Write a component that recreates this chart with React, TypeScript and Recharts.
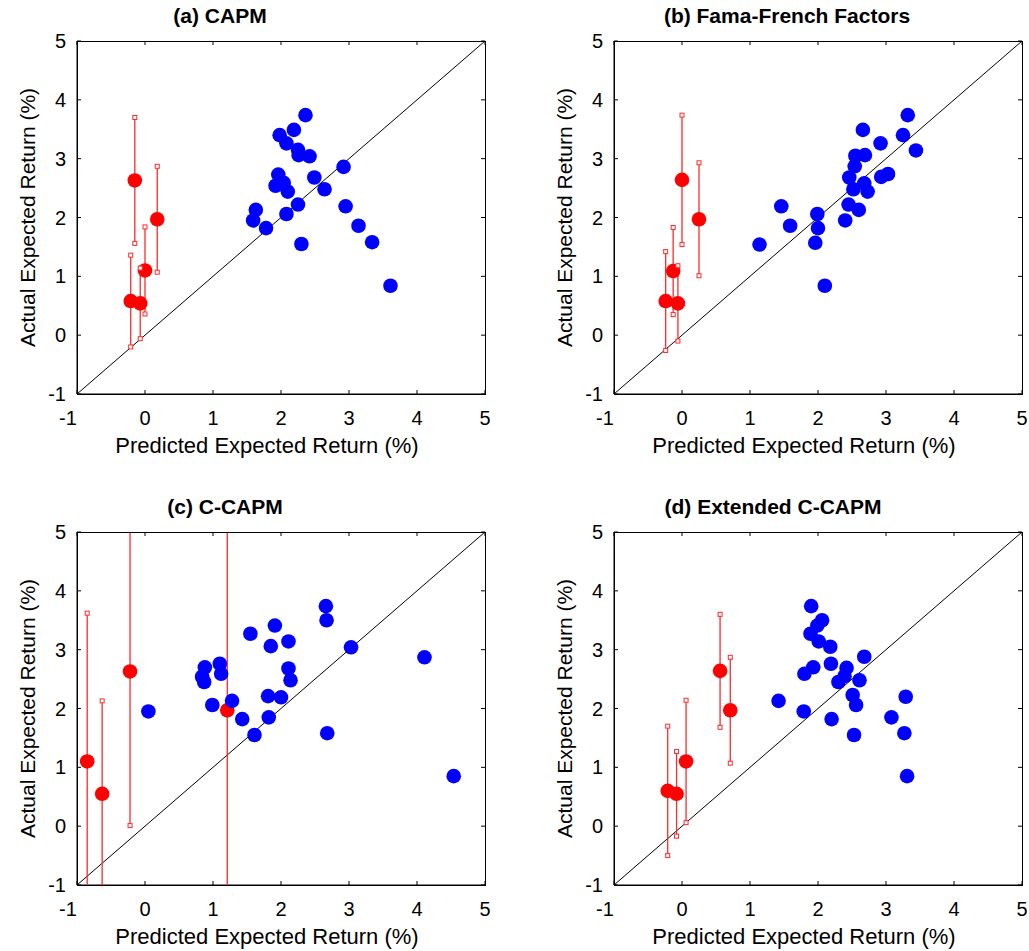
import React from 'react';
import { ScatterChart, Scatter, XAxis, YAxis, Label, ReferenceDot } from 'recharts';

// [predicted, actual] for the 25 test portfolios (blue)
const capmPortfolios: [number, number][] = [
  [2.36, 3.74], [2.19, 3.49], [1.98, 3.4], [2.08, 3.26], [2.25, 3.15], [2.26, 3.06],
  [2.42, 3.04], [2.92, 2.86], [1.96, 2.73], [2.49, 2.68], [2.04, 2.59], [1.92, 2.54],
  [2.1, 2.44], [2.64, 2.48], [2.25, 2.22], [2.95, 2.19], [1.63, 2.13], [2.08, 2.06],
  [1.59, 1.95], [1.78, 1.82], [3.14, 1.86], [3.34, 1.58], [2.3, 1.55], [3.61, 0.84],
];
const ffPortfolios: [number, number][] = [
  [3.32, 3.74], [2.66, 3.49], [3.25, 3.4], [2.92, 3.26], [3.44, 3.14], [2.55, 3.05],
  [2.69, 3.06], [2.54, 2.87], [2.46, 2.68], [3.03, 2.74], [2.93, 2.69], [2.68, 2.58],
  [2.52, 2.48], [2.73, 2.44], [2.45, 2.22], [2.6, 2.13], [1.46, 2.19], [1.99, 2.06],
  [2.4, 1.95], [1.59, 1.86], [2.0, 1.82], [1.96, 1.57], [1.14, 1.54], [2.1, 0.84],
];
const ccapmPortfolios: [number, number][] = [
  [2.66, 3.74], [2.67, 3.5], [1.91, 3.41], [1.55, 3.27], [2.11, 3.14], [1.85, 3.06],
  [3.03, 3.04], [4.11, 2.87], [1.1, 2.76], [0.88, 2.7], [2.11, 2.68], [0.84, 2.54],
  [1.12, 2.59], [0.87, 2.45], [2.14, 2.48], [1.81, 2.21], [2.0, 2.19], [1.28, 2.13],
  [0.99, 2.06], [0.05, 1.95], [1.82, 1.85], [1.43, 1.82], [1.61, 1.55], [2.68, 1.58],
  [4.54, 0.85],
];
const extPortfolios: [number, number][] = [
  [1.9, 3.74], [2.06, 3.5], [1.99, 3.41], [1.89, 3.27], [2.01, 3.14], [2.18, 3.05],
  [2.68, 2.88], [1.93, 2.7], [2.19, 2.76], [2.42, 2.69], [1.8, 2.59], [2.39, 2.55],
  [2.3, 2.45], [2.61, 2.48], [2.51, 2.23], [3.29, 2.2], [1.42, 2.13], [2.56, 2.06],
  [1.79, 1.95], [3.08, 1.85], [2.2, 1.82], [2.53, 1.55], [3.27, 1.58], [3.31, 0.85],
];

// [predicted, actual, error half-width] for the red assets
const capmAssets: [number, number, number][] = [
  [-0.15, 2.63, 1.07], [0.18, 1.97, 0.9], [0.0, 1.1, 0.74], [-0.21, 0.58, 0.78], [-0.07, 0.54, 0.6],
];
const ffAssets: [number, number, number][] = [
  [0.0, 2.64, 1.1], [0.25, 1.97, 0.96], [-0.13, 1.09, 0.74], [-0.24, 0.58, 0.84], [-0.06, 0.54, 0.64],
];
const ccapmAssets: [number, number, number][] = [
  [-0.22, 2.63, 2.62], [1.21, 1.97, 4.5], [-0.85, 1.1, 2.52], [-0.63, 0.55, 1.58],
];
const extAssets: [number, number, number][] = [
  [0.56, 2.64, 0.96], [0.71, 1.97, 0.9], [0.06, 1.1, 1.04], [-0.21, 0.6, 1.1], [-0.08, 0.55, 0.72],
];

const axisTicks = [-1, 0, 1, 2, 3, 4, 5];
const AXIS_MIN = -1;
const AXIS_MAX = 5;
const PLOT_W = 408;
const PLOT_H = 353;
const FONT = '"Liberation Sans", Arial, sans-serif';
const ERR_RED = '#ff2a2a';

const blueDot = (p: any) => <circle cx={p.cx} cy={p.cy} r={7.3} fill="#0000ff" />;
const redDot = (p: any) => <circle cx={p.cx} cy={p.cy} r={7.3} fill="#ff0000" />;
const capShape = (p: any) => (
  <rect x={p.cx - 2} y={p.cy - 2} width={4} height={4} fill="#fff" stroke={ERR_RED} strokeWidth={1} />
);
const noShape = () => <g />;
// inward tick marks on the top and right edges of the box
const topTick = (p: any) => <line x1={p.cx} x2={p.cx} y1={p.cy} y2={p.cy + 4} stroke="#000" strokeWidth={1} />;
const rightTick = (p: any) => <line x1={p.cx} x2={p.cx - 4} y1={p.cy} y2={p.cy} stroke="#000" strokeWidth={1} />;

const XTick = (p: any) => (
  <text x={p.x + (p.payload.value === -1 ? -9 : 0)} y={p.y} dy="0.71em" textAnchor="middle" fontSize={20} fill="#000">
    {p.payload.value}
  </text>
);

interface PanelProps {
  left: number;
  top: number;
  title: string;
  titleX: number;
  titleY: number;
  blue: [number, number][];
  red: [number, number, number][];
}

const Panel = ({ left, top, title, titleX, titleY, blue, red }: PanelProps) => {
  const blueData = blue.map(([x, y]) => ({ x, y }));
  const redData = red.map(([x, y]) => ({ x, y }));
  const capData = red.flatMap(([x, y, err]) => [{ x, y: y + err }, { x, y: y - err }]);
  const diag = [{ x: AXIS_MIN, y: AXIS_MIN }, { x: AXIS_MAX, y: AXIS_MAX }];
  return (
    <>
      <div
        style={{
          position: 'absolute', left: titleX, top: titleY, transform: 'translateX(-50%)',
          fontWeight: 'bold', fontSize: 21, lineHeight: 1, whiteSpace: 'nowrap', fontFamily: FONT,
        }}
      >
        {title}
      </div>
      <div style={{ position: 'absolute', left: left - 77, top: top - 41, fontFamily: FONT }}>
        <ScatterChart width={490} height={460} margin={{ top: 41, right: 5, bottom: 26, left: 17 }}>
          <XAxis
            type="number" dataKey="x" domain={[AXIS_MIN, AXIS_MAX]} ticks={axisTicks} allowDataOverflow
            height={40} tickSize={-4} tickMargin={21} tick={<XTick />}
            axisLine={{ stroke: '#000' }} tickLine={{ stroke: '#000' }}
          >
            <Label
              content={({ viewBox }: any) => (
                <text x={viewBox.x + viewBox.width / 2 - 14} y={viewBox.y + 59} textAnchor="middle" fontSize={22} fill="#000">
                  Predicted Expected Return (%)
                </text>
              )}
            />
          </XAxis>
          <XAxis xAxisId="frame" type="number" dataKey="x" domain={[AXIS_MIN, AXIS_MAX]} ticks={axisTicks} hide />
          <YAxis
            type="number" dataKey="y" domain={[AXIS_MIN, AXIS_MAX]} ticks={axisTicks} allowDataOverflow
            width={60} tickSize={-4} tickMargin={15} tick={{ fill: '#000', fontSize: 20 }}
            axisLine={{ stroke: '#000' }} tickLine={{ stroke: '#000' }}
          >
            <Label
              content={({ viewBox }: any) => {
                const lx = viewBox.x + 18;
                const ly = viewBox.y + viewBox.height / 2;
                return (
                  <text x={lx} y={ly} transform={`rotate(-90, ${lx}, ${ly})`} textAnchor="middle" fontSize={21} fill="#000">
                    Actual Expected Return (%)
                  </text>
                );
              }}
            />
          </YAxis>
          <YAxis yAxisId="frame" type="number" dataKey="y" domain={[AXIS_MIN, AXIS_MAX]} ticks={axisTicks} hide />
          {axisTicks.map((t) => (
            <ReferenceDot key={`tt-${t}`} x={t} y={AXIS_MAX} shape={topTick} ifOverflow="visible" />
          ))}
          {axisTicks.map((t) => (
            <ReferenceDot key={`rt-${t}`} x={AXIS_MAX} y={t} shape={rightTick} ifOverflow="visible" />
          ))}
          <Scatter
            xAxisId="frame" yAxisId="frame" data={diag} line={{ stroke: '#000', strokeWidth: 1 }}
            shape={noShape} isAnimationActive={false}
          />
          {red.map(([x, y, err], i) => (
            <Scatter
              key={`err-${i}`}
              data={[{ x, y: y - err }, { x, y: y + err }]}
              line={{ stroke: ERR_RED, strokeWidth: 1.3 }}
              shape={noShape}
              isAnimationActive={false}
            />
          ))}
          <Scatter data={redData} shape={redDot} isAnimationActive={false} />
          <Scatter data={capData} shape={capShape} isAnimationActive={false} />
          <Scatter data={blueData} shape={blueDot} isAnimationActive={false} />
        </ScatterChart>
      </div>
      {/* box frame around the plot area */}
      <div
        style={{
          position: 'absolute', left, top, width: PLOT_W + 1, height: PLOT_H + 1,
          boxSizing: 'border-box', border: '1px solid #000', pointerEvents: 'none',
        }}
      />
    </>
  );
};

export default function App() {
  return (
    <div style={{ position: 'absolute', left: 0, top: 0, width: 1029, height: 951, overflow: 'hidden', background: '#fff' }}>
      <Panel left={77} top={41} title="(a) CAPM" titleX={220} titleY={5} blue={capmPortfolios} red={capmAssets} />
      <Panel left={614} top={41} title="(b) Fama-French Factors" titleX={787} titleY={5} blue={ffPortfolios} red={ffAssets} />
      <Panel left={77} top={532} title="(c) C-CAPM" titleX={225} titleY={496} blue={ccapmPortfolios} red={ccapmAssets} />
      <Panel left={614} top={532} title="(d) Extended C-CAPM" titleX={773} titleY={496} blue={extPortfolios} red={extAssets} />
    </div>
  );
}
